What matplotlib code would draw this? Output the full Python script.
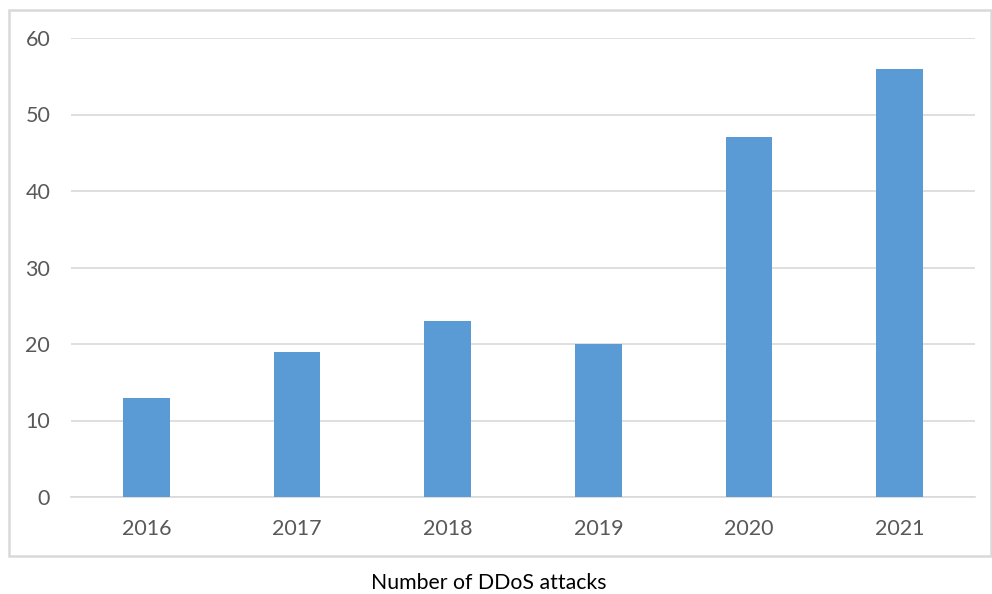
import matplotlib.pyplot as plt
from matplotlib.patches import Rectangle

years = ['2016', '2017', '2018', '2019', '2020', '2021']
attacks = [13, 19, 23, 20, 47, 56]

plt.rcParams['font.family'] = ['Lato', 'DejaVu Sans']

W, H = 992, 594
fig = plt.figure(figsize=(W / 100, H / 100), dpi=100)

# outer chart border
fig.patches.append(Rectangle((9 / W, 1 - 556 / H), (991 - 9) / W, (556 - 10) / H,
                             transform=fig.transFigure, fill=False,
                             edgecolor='#D9D9D9', linewidth=1.8))

ax = fig.add_axes([71 / W, 1 - 497 / H, (975 - 71) / W, (497 - 38) / H])
x = range(len(years))
ax.bar(x, attacks, width=0.31, color='#5B9BD5', zorder=3)

ax.set_xlim(-0.5, len(years) - 0.5)
ax.set_ylim(0, 60)
ax.set_yticks(range(0, 61, 10))
ax.set_xticks(list(x))
ax.set_xticklabels(years)
ax.grid(axis='y', color='#D9D9D9', linewidth=1.2, zorder=0)
for side in ['top', 'right', 'left']:
    ax.spines[side].set_visible(False)
ax.spines['bottom'].set_color('#D9D9D9')
ax.spines['bottom'].set_linewidth(1.2)
ax.tick_params(length=0, labelsize=15.5, colors='#595959')
ax.tick_params(axis='y', pad=15)
ax.tick_params(axis='x', pad=15.5)

fig.text(489 / W, 1 - 583 / H, 'Number of DDoS attacks', ha='center', va='center',
         fontsize=15.3, color='#000000')

fig.savefig('out.png', dpi=100)
